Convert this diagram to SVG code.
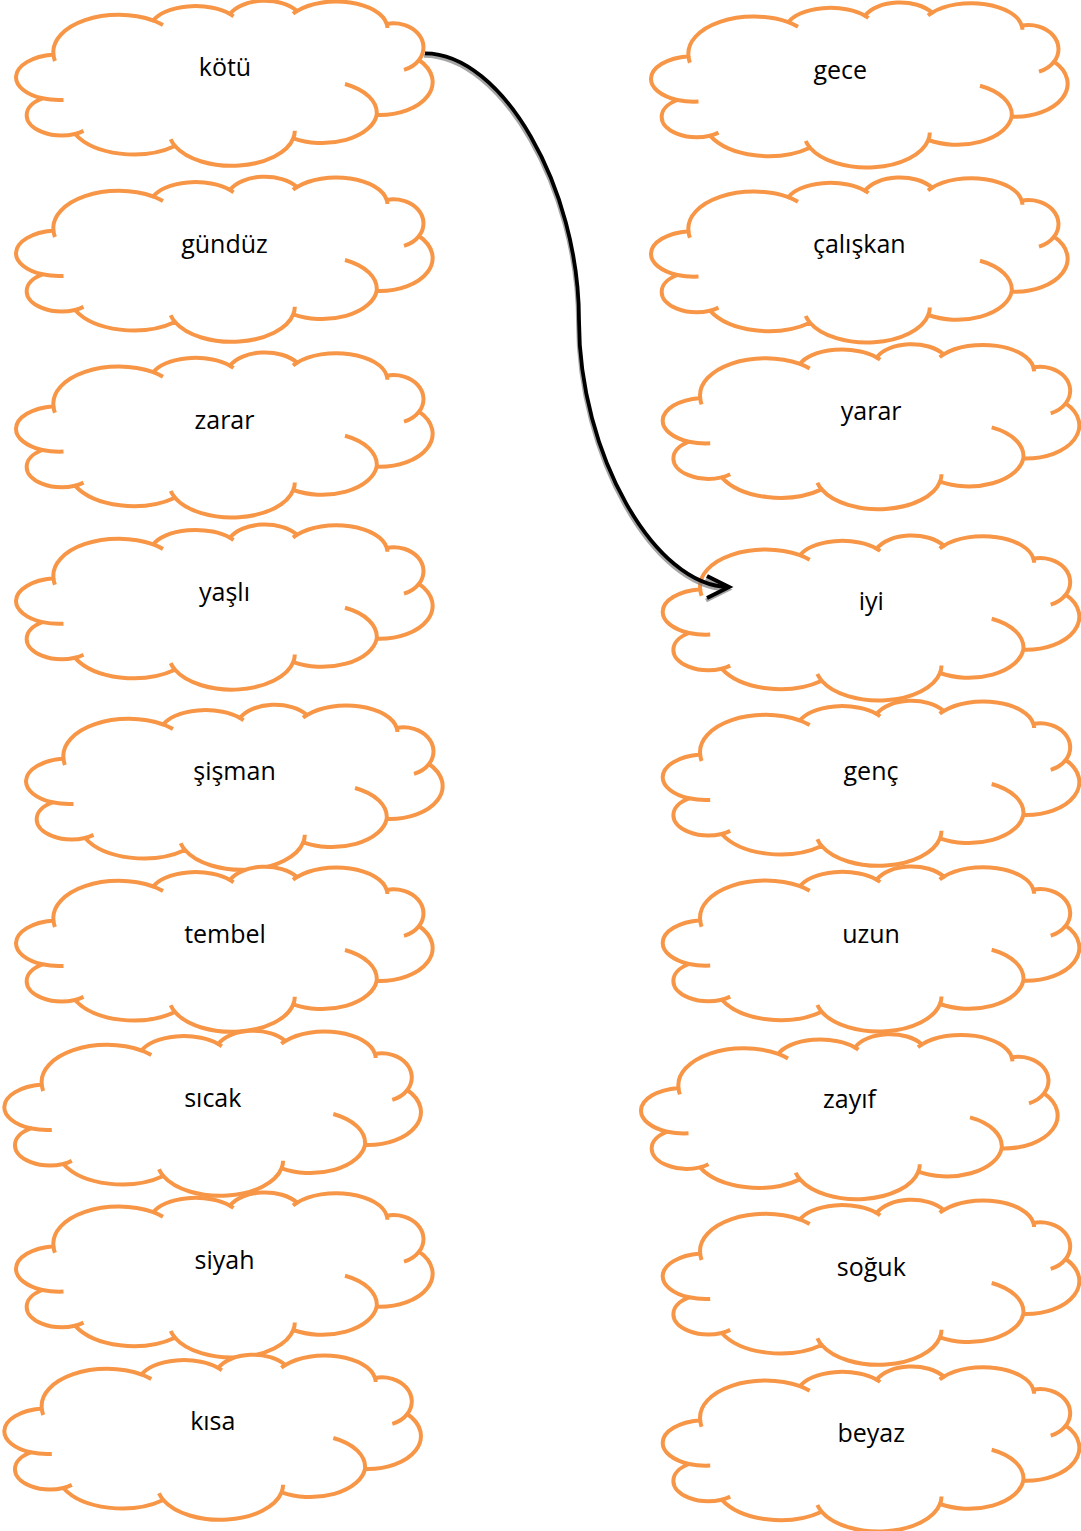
<svg xmlns="http://www.w3.org/2000/svg" xmlns:xlink="http://www.w3.org/1999/xlink" width="1081" height="1531" viewBox="0 0 1081 1531">
<style>
.cloud-body{fill:#ffffff;stroke:#F79646;stroke-width:4;stroke-linejoin:round}
.cloud-deco{fill:none;stroke:#F79646;stroke-width:4}
.lbl{font-family:"Open Sans","Liberation Sans",sans-serif;font-size:25px;fill:#000000;text-anchor:middle}
.conn{fill:none;stroke:#000000;stroke-width:3.8}
.conn-shadow{fill:none;stroke:#808080;stroke-width:3.8;opacity:0.7}
</style>
<defs>
<g id="cloud">
<path class="cloud-body" d="M 53.5,54.5 A 65.3,37 0 0 1 153.3,20.5 A 45,22 0 0 1 230,14 A 38,22 0 0 1 297,11 A 51,26.3 0 0 1 386.7,24 A 30,24 0 0 1 419,60 A 53.3,33 0 0 1 376.7,115 A 55,32 0 0 1 293.3,138.3 A 63,35 0 0 1 175,146 A 66,38 0 0 1 75,134 A 35.3,20 0 0 1 26.7,115 A 35.3,20 0 0 1 42.3,98.3 A 44,23 0 0 1 16,77 A 44,23 0 0 1 53.5,54.5 Z"/>
<path class="cloud-deco" d="M 53.5,54.5 A 65.3,37 0 0 0 54.9,61 M 153.3,20.5 A 65.3,37 0 0 1 163,25.1 M 230,14 A 45,22 0 0 1 233.5,16.3 M 293,13.8 A 51,26.3 0 0 1 297,11 M 386.7,24 A 51,26.3 0 0 1 387.4,28 M 419,60 A 30,24 0 0 1 404,69.9 M 345,84 A 55,32 0 0 1 376.7,115 M 294.8,130.8 A 63,35 0 0 1 293.3,138.3 M 175,146 A 63,35 0 0 1 170.7,139.3 M 83.5,130.9 A 35.3,20 0 0 1 75,134 M 42.3,98.3 A 44,23 0 0 0 63.5,99.9"/>
</g>
<marker id="arrowhead" markerUnits="userSpaceOnUse" markerWidth="40" markerHeight="40" refX="24" refY="12" orient="auto" overflow="visible">
<path d="M 2,1 L 24,12 L 2,23" fill="none" stroke="#000000" stroke-width="4" stroke-linejoin="miter"/>
</marker>
<marker id="arrowhead-shadow" markerUnits="userSpaceOnUse" markerWidth="40" markerHeight="40" refX="24" refY="12" orient="auto" overflow="visible">
<path d="M 2,1 L 24,12 L 2,23" fill="none" stroke="#808080" stroke-width="4" stroke-linejoin="miter"/>
</marker>
</defs>

<g id="node-kotu"><use xlink:href="#cloud" href="#cloud" transform="translate(0,0)"/><text class="lbl" x="225" y="76">kötü</text></g>
<g id="node-gunduz"><use xlink:href="#cloud" href="#cloud" transform="translate(0,176)"/><text class="lbl" x="224.5" y="252.5">gündüz</text></g>
<g id="node-zarar"><use xlink:href="#cloud" href="#cloud" transform="translate(0,351.7)"/><text class="lbl" x="224.5" y="428.5">zarar</text></g>
<g id="node-yasli"><use xlink:href="#cloud" href="#cloud" transform="translate(0,523.8)"/><text class="lbl" x="224.5" y="600.7">yaşlı</text></g>
<g id="node-sisman"><use xlink:href="#cloud" href="#cloud" transform="translate(10,704)"/><text class="lbl" x="234.5" y="780">şişman</text></g>
<g id="node-tembel"><use xlink:href="#cloud" href="#cloud" transform="translate(0,866)"/><text class="lbl" x="225" y="942.5">tembel</text></g>
<g id="node-sicak"><use xlink:href="#cloud" href="#cloud" transform="translate(-11.7,1030)"/><text class="lbl" x="212.8" y="1106.5">sıcak</text></g>
<g id="node-siyah"><use xlink:href="#cloud" href="#cloud" transform="translate(0,1191.7)"/><text class="lbl" x="224.5" y="1269">siyah</text></g>
<g id="node-kisa"><use xlink:href="#cloud" href="#cloud" transform="translate(-11.7,1354)"/><text class="lbl" x="212.8" y="1430">kısa</text></g>

<g id="node-gece"><use xlink:href="#cloud" href="#cloud" transform="translate(635,1.7)"/><text class="lbl" x="840.3" y="79">gece</text></g>
<g id="node-caliskan"><use xlink:href="#cloud" href="#cloud" transform="translate(635,176.7)"/><text class="lbl" x="859.3" y="252.5">çalışkan</text></g>
<g id="node-yarar"><use xlink:href="#cloud" href="#cloud" transform="translate(646.7,343.4)"/><text class="lbl" x="871.2" y="419.5">yarar</text></g>
<g id="node-iyi"><use xlink:href="#cloud" href="#cloud" transform="translate(646.7,534.7)"/><text class="lbl" x="871.3" y="610">iyi</text></g>
<g id="node-genc"><use xlink:href="#cloud" href="#cloud" transform="translate(646.7,700)"/><text class="lbl" x="871" y="779.5">genç</text></g>
<g id="node-uzun"><use xlink:href="#cloud" href="#cloud" transform="translate(646.7,865.7)"/><text class="lbl" x="871" y="943">uzun</text></g>
<g id="node-zayif"><use xlink:href="#cloud" href="#cloud" transform="translate(625,1033.4)"/><text class="lbl" x="849.5" y="1108">zayıf</text></g>
<g id="node-soguk"><use xlink:href="#cloud" href="#cloud" transform="translate(646.7,1199)"/><text class="lbl" x="871.3" y="1276">soğuk</text></g>
<g id="node-beyaz"><use xlink:href="#cloud" href="#cloud" transform="translate(646.7,1365.7)"/><text class="lbl" x="871.2" y="1441.5">beyaz</text></g>

<g id="connectors">
<path class="conn-shadow" transform="translate(-1,2.5)" marker-end="url(#arrowhead-shadow)" d="M 425,53.3 C 502,53.3 579,186.7 579,320.2 C 579,453.6 655,587 729,587"/>
<path class="conn" marker-end="url(#arrowhead)" d="M 425,53.3 C 502,53.3 579,186.7 579,320.2 C 579,453.6 655,587 729,587"/>
</g>
</svg>
